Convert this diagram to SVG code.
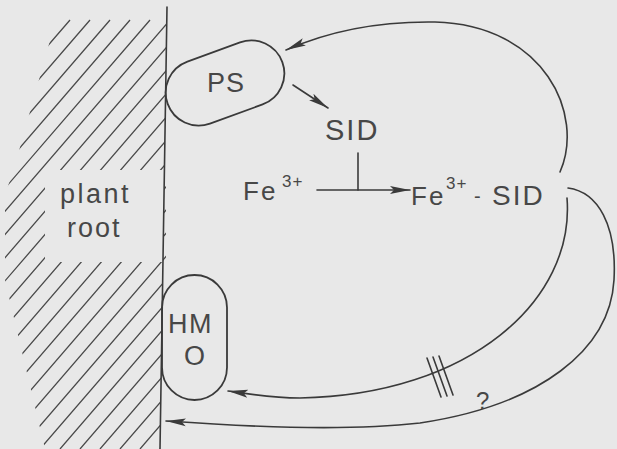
<svg xmlns="http://www.w3.org/2000/svg" width="617" height="449" viewBox="0 0 617 449">
<style>
.ln{fill:none;stroke:#3a3a3a;stroke-width:1.6;stroke-linecap:round}
.hz{fill:none;stroke:#4a4a4a;stroke-width:1.3}
.tx{font-family:"Liberation Sans",Arial,sans-serif;fill:#474747}
.nd{fill:none;stroke:#3a3a3a;stroke-width:1.8}
</style>
<defs>
<marker id="ah" markerUnits="userSpaceOnUse" markerWidth="22" markerHeight="10" refX="20" refY="5" orient="auto">
<path d="M0,1 L20,5 L0,9 L4,5 Z" fill="#3a3a3a"/>
</marker>
<clipPath id="hc">
<path clip-rule="evenodd" d="M60 5 L167 5 L160 449 L45 449 L5 280 L5 195 L15 165 Z M45 170 L166 170 L166 262 L45 262 Z"/>
</clipPath>
</defs>
<rect width="617" height="449" fill="#e8e8e8"/>
<g id="root">
<g clip-path="url(#hc)" class="hz">
<path d="M-360 449 L10 20 M-340 449 L30 20 M-320 449 L50 20 M-300 449 L70 20 M-280 449 L90 20 M-260 449 L110 20 M-240 449 L130 20 M-220 449 L150 20 M-200 449 L170 20 M-180 449 L190 20 M-160 449 L210 20 M-140 449 L230 20 M-120 449 L250 20 M-100 449 L270 20 M-80 449 L290 20 M-60 449 L310 20 M-40 449 L330 20 M-20 449 L350 20 M0 449 L370 20 M20 449 L390 20 M40 449 L410 20 M60 449 L430 20 M80 449 L450 20 M100 449 L470 20 M120 449 L490 20 M140 449 L510 20 M160 449 L530 20"/>
<path d="M-360 469 L10 40 M-340 469 L30 40"/>
</g>
<line class="ln" x1="167" y1="7" x2="160" y2="449" stroke-width="2"/>
<text class="tx" x="60" y="203" font-size="27" letter-spacing="2.5">plant</text>
<text class="tx" x="67" y="237" font-size="27" letter-spacing="2">root</text>
</g>
<g id="PS">
<rect class="nd" x="164" y="50" width="122" height="66" rx="33" transform="rotate(-20 225 83)"/>
<text class="tx" x="207" y="92" font-size="27" letter-spacing="1">PS</text>
</g>
<g id="HMO">
<rect class="nd" x="162" y="275" width="65" height="125" rx="32.5"/>
<text class="tx" x="168" y="333" font-size="27" letter-spacing="1.5">HM</text>
<text class="tx" x="184" y="365" font-size="27">O</text>
</g>
<g id="SID">
<text class="tx" x="325" y="140" font-size="29" letter-spacing="2">SID</text>
</g>
<g id="Fe">
<text class="tx" x="243" y="200" font-size="26" letter-spacing="2">Fe</text>
<text class="tx" x="282" y="187" font-size="17" letter-spacing="1">3+</text>
</g>
<g id="FeSID">
<text class="tx" x="411" y="205" font-size="26" letter-spacing="2">Fe</text>
<text class="tx" x="446" y="189" font-size="17" letter-spacing="1">3+</text>
<text class="tx" x="474" y="203" font-size="20">-</text>
<text class="tx" x="492" y="205" font-size="28" letter-spacing="2">SID</text>
</g>
<g id="connectors">
<path class="ln" d="M293 85 L328 108" marker-end="url(#ah)"/>
<path class="ln" d="M317 190 L410 190" marker-end="url(#ah)"/>
<path class="ln" d="M358 153 L358 190"/>
<path class="ln" d="M560 172 C585 115, 545 25, 435 22 C370 21, 320 35, 286 50" marker-end="url(#ah)"/>
<path class="ln" d="M567 198 C575 300, 470 395, 300 398 C270 398, 250 394, 228 391" marker-end="url(#ah)"/>
<path class="ln" d="M568 188 C598 192, 617 225, 614 280 C610 350, 540 405, 420 423 C340 432, 240 426, 166 421" marker-end="url(#ah)"/>
<path class="ln" d="M427 358 L441 397 M433 357 L447 396 M439 356 L453 395" stroke-width="1.4"/>
<text class="tx" x="476" y="409" font-size="24">?</text>
</g>
</svg>
